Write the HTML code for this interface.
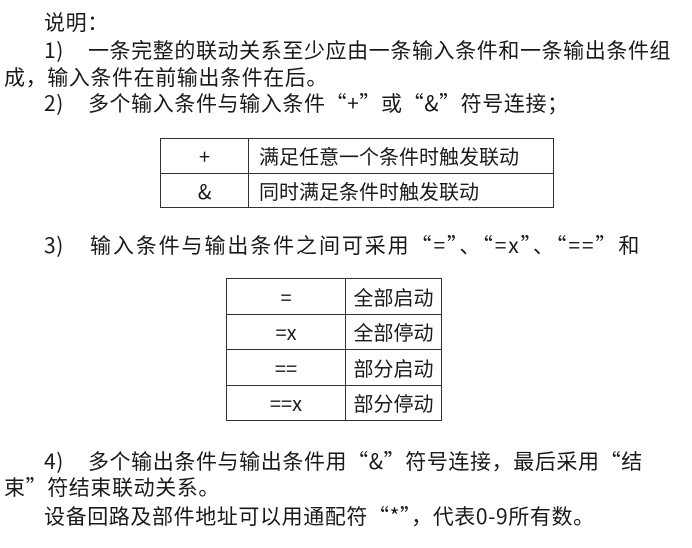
<!DOCTYPE html>
<html><head><meta charset="utf-8"><style>
body{margin:0;width:692px;height:548px;background:#fff;position:relative;overflow:hidden;font-family:"Noto Sans CJK SC","Liberation Sans",sans-serif;color:#1a1a1a}
.l{position:absolute;font-size:21px;line-height:26px;white-space:nowrap;letter-spacing:0.6px}
table{position:absolute;border-collapse:collapse;font-size:20px}
td{border:1.5px solid #333;padding:0;text-align:center;vertical-align:middle}
td.t{text-align:left;padding-left:10px}
.s{display:inline-block}
</style></head><body>
<div class="l" style="left:44px;top:9px">说明：</div>
<div class="l" style="left:44px;top:37px">1)<span class="s" style="width:24px"></span>一条完整的联动关系至少应由一条输入条件和一条输出条件组</div>
<div class="l" style="left:4px;top:64px">成，输入条件在前输出条件在后。</div>
<div class="l" style="left:44px;top:90px">2)<span class="s" style="width:24px"></span>多个输入条件与输入条件“+”或“&amp;”符号连接；</div>
<table style="left:160px;top:138px;width:394px;height:70px">
<tr><td style="width:87px">+</td><td class="t">满足任意一个条件时触发联动</td></tr>
<tr><td>&amp;</td><td class="t">同时满足条件时触发联动</td></tr>
</table>
<div class="l" style="left:44px;top:232px">3)<span class="s" style="width:26px"></span><span style="letter-spacing:1.9px">输入条件与输出条件之间可采用“=”、“=x”、“==”和</span></div>
<table style="left:226px;top:278px;width:216px;height:143px">
<tr><td style="width:118px">=</td><td>全部启动</td></tr>
<tr><td>=x</td><td>全部停动</td></tr>
<tr><td>==</td><td>部分启动</td></tr>
<tr><td>==x</td><td>部分停动</td></tr>
</table>
<div class="l" style="left:44px;top:448px">4)<span class="s" style="width:24px"></span>多个输出条件与输出条件用“&amp;”符号连接，最后采用“结</div>
<div class="l" style="left:4px;top:474px">束”符结束联动关系。</div>
<div class="l" style="left:44px;top:503px">设备回路及部件地址可以用通配符“*”，代表0-9所有数。</div>
</body></html>
